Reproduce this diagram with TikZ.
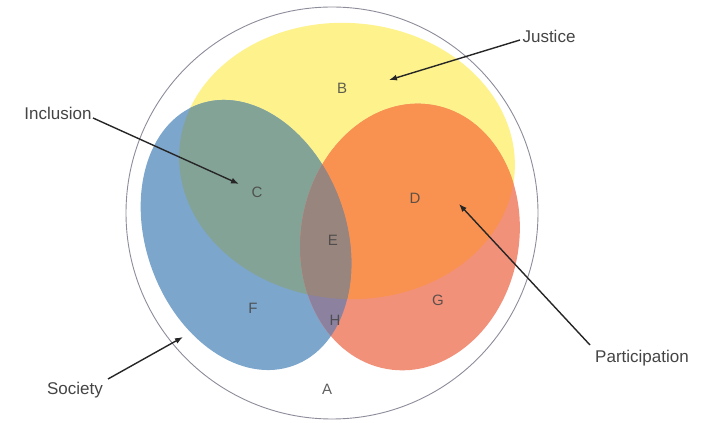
\documentclass[tikz,border=0pt]{standalone}
\usepackage{fontspec}
\setmainfont{Liberation Sans}
\usetikzlibrary{arrows.meta}
\definecolor{cYel}{HTML}{FDF28C}
\definecolor{cBlue}{HTML}{7DA6CC}
\definecolor{cC}{HTML}{84A397}
\definecolor{cOr}{HTML}{F99250}
\definecolor{cG}{HTML}{F2917A}
\definecolor{cE}{HTML}{98857E}
\definecolor{cH}{HTML}{8C82A0}
\definecolor{cRing}{HTML}{8C8C9A}
\definecolor{cTxt}{HTML}{444444}
\begin{document}
\begin{tikzpicture}[x=1pt,y=1pt,
  word/.style={font=\fontsize{17}{17}\selectfont, text=cTxt, inner sep=0pt},
  letter/.style={font=\fontsize{15}{15}\selectfont, text=cTxt, text opacity=0.85, inner sep=0pt},
  pointer/.style={line width=1.4pt, draw=black!85, -{Latex[length=8pt,width=6pt]}}]
\useasboundingbox (0,0) rectangle (705,423);
\def\yelpath{(347,262) ellipse[x radius=168, y radius=138, rotate=-4]}
\def\bluepath{(246,188) ellipse[x radius=100, y radius=139, rotate=20]}
\def\orpath{(410,186) ellipse[x radius=109, y radius=134, rotate=-10]}
% society circle
\draw[cRing, line width=0.9pt] (332,210) circle[radius=206];
% justice
\fill[cYel] \yelpath;
% inclusion
\fill[cBlue] \bluepath;
\begin{scope}
  \clip \yelpath;
  \fill[cC] \bluepath;
\end{scope}
% participation
\fill[cG] \orpath;
\begin{scope}
  \clip \yelpath;
  \fill[cOr] \orpath;
\end{scope}
\begin{scope}
  \clip \bluepath;
  \fill[cH] \orpath;
\end{scope}
\begin{scope}
  \clip \bluepath;
  \clip \yelpath;
  \fill[cE] \orpath;
\end{scope}
% region letters
\node[letter] (lA) at (327,34) {A};
\node[letter] (lB) at (342,335) {B};
\node[letter] (lC) at (257,231) {C};
\node[letter] (lD) at (415,225) {D};
\node[letter] (lE) at (333,183) {E};
\node[letter] (lF) at (253,115) {F};
\node[letter] (lG) at (438,123) {G};
\node[letter] (lH) at (335,103) {H};
% words
\node[word] (justice) at (549,387) {Justice};
\node[word] (inclusion) at (58,310) {Inclusion};
\node[word] (society) at (75,33) {Society};
\node[word] (participation) at (642,65) {Participation};
% arrow ends
\coordinate (jS) at (520,383);
\coordinate (jT) at (389,343);
\coordinate (iS) at (93,305);
\coordinate (iT) at (239,239);
\coordinate (sS) at (108,44);
\coordinate (sT) at (183,86);
\coordinate (pS) at (590,78);
\coordinate (pT) at (459,219);
\draw[pointer] (jS) -- (jT);
\draw[pointer] (iS) -- (iT);
\draw[pointer] (sS) -- (sT);
\draw[pointer] (pS) -- (pT);
\end{tikzpicture}
\end{document}
